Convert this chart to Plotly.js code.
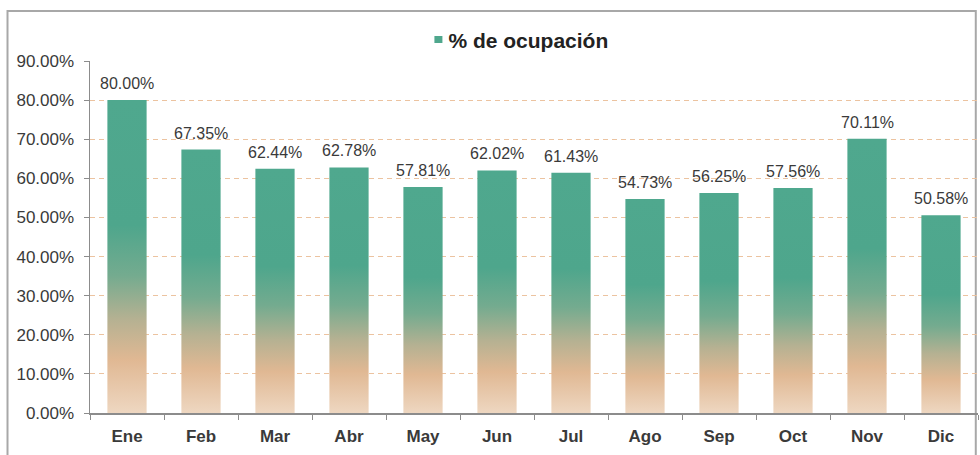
<!DOCTYPE html>
<html>
<head>
<meta charset="utf-8">
<script src="https://cdn.plot.ly/plotly-3.0.1.min.js"></script>
<style>
  html, body { margin: 0; padding: 0; background: #ffffff; }
  #chart { width: 980px; height: 455px; }
</style>
</head>
<body>
<div id="chart"></div>
<script>
// ---- Data ----
const months = ["Ene", "Feb", "Mar", "Abr", "May", "Jun", "Jul", "Ago", "Sep", "Oct", "Nov", "Dic"];
const occupancy = [0.8000, 0.6735, 0.6244, 0.6278, 0.5781, 0.6202, 0.6143, 0.5473, 0.5625, 0.5756, 0.7011, 0.5058];
const seriesName = "% de ocupación";
const yTickValues = [0, 0.1, 0.2, 0.3, 0.4, 0.5, 0.6, 0.7, 0.8, 0.9];

const textColor = "#3a3a3a";
const font = "Liberation Sans, Arial, sans-serif";

const trace = {
  type: "bar",
  x: months,
  y: occupancy,
  name: seriesName,
  marker: { color: "#4fa78d", line: { width: 0 } },
  hoverinfo: "none",
  showlegend: true
};

const annotations = months.map((m, i) => ({
  x: m,
  y: occupancy[i],
  xref: "x",
  yref: "y",
  text: (occupancy[i] * 100).toFixed(2) + "%",
  showarrow: false,
  yanchor: "bottom",
  yshift: 6,
  font: { family: font, size: 16, color: textColor }
}));

const layout = {
  width: 980,
  height: 455,
  margin: { l: 89.5, r: 2, t: 61, b: 42 },
  paper_bgcolor: "#ffffff",
  plot_bgcolor: "#ffffff",
  bargap: 0.47,
  showlegend: true,
  legend: {
    orientation: "h",
    x: 0.474,
    xanchor: "center",
    y: 1.06,
    yanchor: "middle",
    itemwidth: 30,
    font: { family: font, size: 21, color: "#222222", weight: "bold" },
    bgcolor: "rgba(0,0,0,0)"
  },
  xaxis: {
    type: "category",
    showgrid: false,
    showline: true,
    linecolor: "#8c8c8c",
    linewidth: 1.5,
    ticks: "outside",
    tickson: "boundaries",
    ticklen: 5,
    tickcolor: "#8c8c8c",
    ticklabelstandoff: 7,
    tickfont: { family: font, size: 17, color: textColor, weight: "bold" },
    fixedrange: true
  },
  yaxis: {
    range: [0, 0.9],
    tickvals: yTickValues,
    tickformat: ".2%",
    showgrid: true,
    gridcolor: "#ecc3a0",
    griddash: "5px,4px",
    gridwidth: 1,
    zeroline: false,
    showline: true,
    linecolor: "#8c8c8c",
    linewidth: 1.5,
    ticks: "outside",
    ticklen: 5,
    tickcolor: "#8c8c8c",
    ticklabelstandoff: 6,
    tickfont: { family: font, size: 17, color: textColor },
    fixedrange: true
  },
  annotations: annotations,
  shapes: [{
    type: "rect",
    xref: "paper",
    yref: "paper",
    x0: -0.0929, x1: 0.9975,
    y0: -0.15, y1: 1.142,
    line: { color: "#a8a8a8", width: 2 },
    fillcolor: "rgba(0,0,0,0)",
    layer: "below"
  }]
};

Plotly.newPlot("chart", [trace], layout, { displayModeBar: false, staticPlot: true }).then(function (gd) {
  const svg = gd.querySelector("svg.main-svg");
  const ns = "http://www.w3.org/2000/svg";
  let defs = svg.querySelector("defs");
  if (!defs) { defs = document.createElementNS(ns, "defs"); svg.insertBefore(defs, svg.firstChild); }
  const grad = document.createElementNS(ns, "linearGradient");
  grad.setAttribute("id", "barGrad");
  grad.setAttribute("x1", "0"); grad.setAttribute("y1", "0");
  grad.setAttribute("x2", "0"); grad.setAttribute("y2", "1");
  const stops = [
    [0, "#4fa88e"], [0.4, "#4ea68c"], [0.56, "#74ab8f"],
    [0.7, "#b5b192"], [0.83, "#e0b893"], [1, "#eed7c1"]
  ];
  stops.forEach(function (s) {
    const st = document.createElementNS(ns, "stop");
    st.setAttribute("offset", s[0]);
    st.setAttribute("stop-color", s[1]);
    grad.appendChild(st);
  });
  defs.appendChild(grad);
  gd.querySelectorAll(".barlayer .bars path").forEach(function (p) {
    p.style.fill = "url(#barGrad)";
  });
  // compact legend swatch, close to its text like the reference
  gd.querySelectorAll(".legend .legendpoints path").forEach(function (p) {
    p.setAttribute("d", "M4,3.5H-4V-3.5H4Z");
    p.setAttribute("transform", "translate(30,0)");
  });
});
</script>
</body>
</html>
